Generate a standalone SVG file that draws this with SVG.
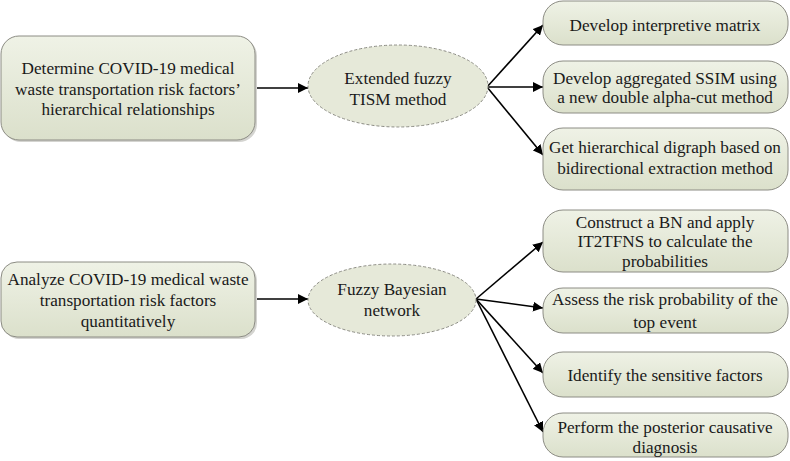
<svg xmlns="http://www.w3.org/2000/svg" width="790" height="461" viewBox="0 0 790 461">
<defs>
<linearGradient id="g" x1="0" y1="0" x2="0" y2="1">
<stop offset="0" stop-color="#eff2e6"/>
<stop offset="1" stop-color="#dbe0cb"/>
</linearGradient>
<marker id="ah" viewBox="0 0 10 10" refX="10" refY="5" markerWidth="10" markerHeight="10" markerUnits="userSpaceOnUse" orient="auto">
<path d="M0,0 L10,5 L0,10 z" fill="#000"/>
</marker>
</defs>
<style>
.box{fill:url(#g);stroke:#8c8c84;stroke-width:1}
.sh{fill:#d4d4d0;stroke:none}
.ell{fill:#e6e9d9;stroke:#8c8c84;stroke-width:1;stroke-dasharray:3,2}
text{font-family:"Liberation Serif","Times New Roman",serif;font-size:17.2px;fill:#1a1a1a;text-anchor:middle;dominant-baseline:central}
.c{stroke:#000;stroke-width:1.6;fill:none;marker-end:url(#ah)}
</style>
<g id="connectors">
<line class="c" x1="255" y1="88" x2="308" y2="88"/>
<line class="c" x1="487" y1="87" x2="543" y2="25"/>
<line class="c" x1="487" y1="87" x2="543" y2="87"/>
<line class="c" x1="487" y1="87" x2="543" y2="155"/>
<line class="c" x1="255" y1="299" x2="308" y2="299"/>
<line class="c" x1="476" y1="299" x2="543" y2="242"/>
<line class="c" x1="476" y1="299" x2="543" y2="308"/>
<line class="c" x1="476" y1="299" x2="543" y2="373"/>
<line class="c" x1="476" y1="299" x2="543" y2="432"/>
</g>
<g id="n1">
<rect class="sh" x="3" y="38" width="254" height="104" rx="18"/>
<rect class="box" x="1" y="36" width="254" height="104" rx="18"/>
<text x="128" y="68">Determine COVID-19 medical</text>
<text x="128" y="89">waste transportation risk factors’</text>
<text x="128" y="109">hierarchical relationships</text>
</g>
<g id="n2">
<ellipse class="ell" cx="398" cy="86" rx="90" ry="41"/>
<text x="398" y="78">Extended fuzzy</text>
<text x="398" y="99">TISM method</text>
</g>
<g id="n3">
<rect class="box" x="543" y="1" width="245" height="44" rx="20"/>
<text x="665" y="25">Develop interpretive matrix</text>
</g>
<g id="n4">
<rect class="box" x="543" y="61" width="245" height="52" rx="20"/>
<text x="665" y="78">Develop aggregated SSIM using</text>
<text x="665" y="97">a new double alpha-cut method</text>
</g>
<g id="n5">
<rect class="box" x="543" y="128" width="245" height="62" rx="20"/>
<text x="665" y="147">Get hierarchical digraph based on</text>
<text x="665" y="168">bidirectional extraction method</text>
</g>
<g id="n6">
<rect class="sh" x="3" y="264" width="254" height="75" rx="16"/>
<rect class="box" x="1" y="262" width="254" height="75" rx="16"/>
<text x="128" y="279">Analyze COVID-19 medical waste</text>
<text x="128" y="300">transportation risk factors</text>
<text x="128" y="321">quantitatively</text>
</g>
<g id="n7">
<ellipse class="ell" cx="392" cy="300" rx="84" ry="36"/>
<text x="392" y="289">Fuzzy Bayesian</text>
<text x="392" y="310">network</text>
</g>
<g id="n8">
<rect class="box" x="543" y="210" width="245" height="62" rx="20"/>
<text x="665" y="222">Construct a BN and apply</text>
<text x="665" y="241">IT2TFNS to calculate the</text>
<text x="665" y="261">probabilities</text>
</g>
<g id="n9">
<rect class="box" x="543" y="288" width="245" height="45" rx="20"/>
<text x="665" y="299">Assess the risk probability of the</text>
<text x="665" y="322">top event</text>
</g>
<g id="n10">
<rect class="box" x="543" y="352" width="245" height="45" rx="20"/>
<text x="665" y="375">Identify the sensitive factors</text>
</g>
<g id="n11">
<rect class="box" x="543" y="413" width="245" height="44" rx="20"/>
<text x="665" y="427">Perform the posterior causative</text>
<text x="665" y="447">diagnosis</text>
</g>
</svg>
